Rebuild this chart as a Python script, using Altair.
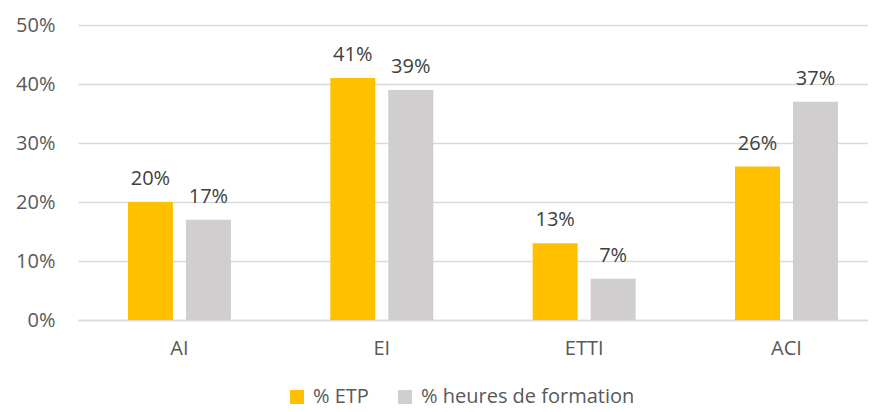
import altair as alt
import pandas as pd

categories = ["AI", "EI", "ETTI", "ACI"]
etp = [20, 41, 13, 26]
heures = [17, 39, 7, 37]
series = ["% ETP", "% heures de formation"]
colors = ["#FFC000", "#D0CECE"]
y_ticks = [0, 0.1, 0.2, 0.3, 0.4, 0.5]

rows = []
for c, a, b in zip(categories, etp, heures):
    rows.append({"cat": c, "serie": series[0], "val": a / 100, "lab": f"{a}%"})
    rows.append({"cat": c, "serie": series[1], "val": b / 100, "lab": f"{b}%"})
df = pd.DataFrame(rows)

FONT = "Open Sans"
FS = 20

x = alt.X(
    "cat:N", sort=categories,
    scale=alt.Scale(paddingInner=0.4, paddingOuter=0.152, align=0.662),
    axis=alt.Axis(title=None, labelAngle=0, labelFontSize=FS, labelColor="#595959",
                  labelPadding=18, domain=True, domainColor="#D9D9D9", domainWidth=1.3,
                  ticks=False, labelFont=FONT),
)
xo = alt.XOffset("serie:N", sort=series,
                 scale=alt.Scale(paddingInner=0.224, paddingOuter=0.159))
y = alt.Y(
    "val:Q",
    scale=alt.Scale(domain=[0, 0.5], nice=False),
    axis=alt.Axis(title=None, format=".0%", values=y_ticks, grid=True, gridColor="#D9D9D9",
                  gridWidth=1.3, domain=False, ticks=False, labelPadding=23,
                  labelFontSize=FS, labelColor="#595959", labelFont=FONT),
)
color = alt.Color(
    "serie:N", sort=series,
    scale=alt.Scale(domain=series, range=colors),
    legend=alt.Legend(title=None, orient="none", legendX=209, legendY=362,
                      direction="horizontal", symbolType="square", symbolSize=196,
                      labelFontSize=FS, labelFont=FONT, labelColor="#595959",
                      labelLimit=0, columnPadding=26, labelOffset=6, symbolStrokeWidth=0),
)

bars = alt.Chart(df).mark_bar().encode(x=x, xOffset=xo, y=y, color=color)
text = alt.Chart(df).mark_text(
    baseline="alphabetic", dy=-17, fontSize=FS, font=FONT, color="#404040"
).encode(x=x, xOffset=xo, y=y, text="lab:N")

chart = alt.layer(bars, text).properties(
    width=790, height=295,
    autosize=alt.AutoSizeParams(type="none"),
    padding={"left": 70, "top": 17, "right": 0, "bottom": 88},
).configure_view(stroke=None)

chart.save("out.html", embed_options={"renderer": "svg", "actions": False})
